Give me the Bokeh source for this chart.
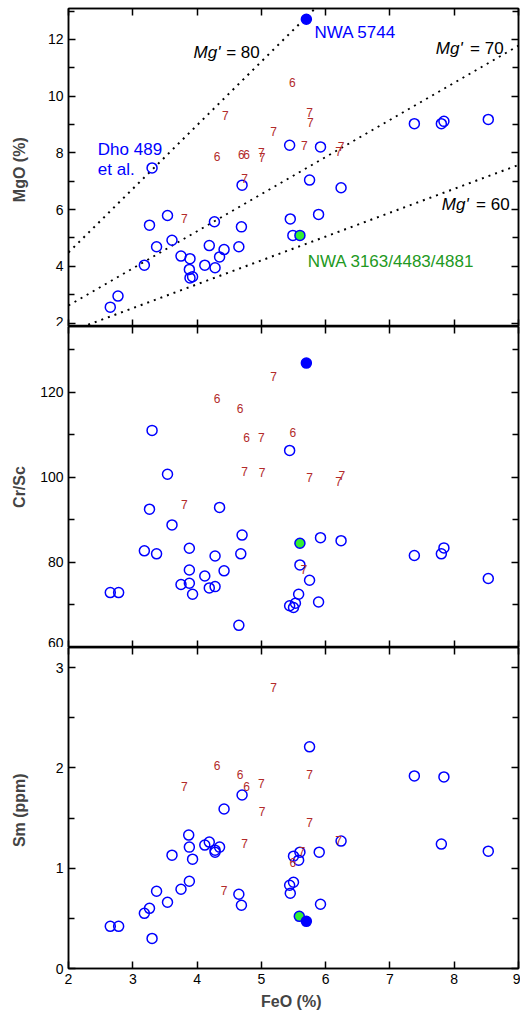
from bokeh.plotting import figure
from bokeh.layouts import column
from bokeh.models import LinearAxis, FixedTicker, Range1d, Label
from bokeh.core.properties import value
from bokeh.embed import file_html
from bokeh.resources import INLINE

FONT = "Liberation Sans"
BLUE = "#0000ff"
RED = "#b22a2a"
GREEN_FILL = "#33ee33"
GREEN_TEXT = "#229922"

# ---------------- data ----------------
x_ticks = [2, 3, 4, 5, 6, 7, 8, 9]

# Panel 1: MgO (%) vs FeO (%)
mgo_open_feo = [3.30, 7.38, 7.80, 7.84, 8.53, 5.44, 5.92, 5.75, 6.24, 5.45, 5.89, 5.49,
                3.26, 3.54, 4.27, 4.69, 3.37, 3.61, 3.18, 2.77, 2.65, 3.75, 3.89, 3.88,
                3.89, 3.93, 4.19, 4.42, 4.35, 4.12, 4.28, 4.65, 4.70]
mgo_open = [7.47, 9.03, 9.03, 9.11, 9.18, 8.27, 8.21, 7.04, 6.77, 5.67, 5.83, 5.09,
            5.45, 5.79, 5.57, 5.39, 4.69, 4.92, 4.04, 2.95, 2.56, 4.36, 4.27, 3.89,
            3.59, 3.63, 4.73, 4.59, 4.33, 4.04, 3.95, 4.69, 6.86]
mgo_nwa5744 = (5.70, 12.71)
mgo_nwa3163 = (5.60, 5.09)
mgo_six_feo = [5.48, 4.31, 4.69, 4.77]
mgo_six = [10.49, 7.88, 7.94, 7.94]
mgo_seven_feo = [4.44, 5.19, 5.00, 5.01, 4.74, 3.80, 5.75, 5.76, 5.67, 6.24, 6.20]
mgo_seven = [9.33, 8.74, 8.00, 7.83, 7.10, 5.67, 9.41, 9.06, 8.27, 8.24, 8.04]
mgo_ticks = [2, 4, 6, 8, 10, 12]
mgo_minor = [1, 3, 5, 7, 9, 11, 13]
mg_numbers = [0.80, 0.70, 0.60]          # Mg' reference lines
mg_labels = ["80", "70", "60"]

# Panel 2: Cr/Sc vs FeO (%)
crsc_open_feo = [3.30, 3.54, 5.44, 3.26, 4.35, 3.61, 4.70, 3.18, 3.37, 3.88, 4.28, 4.68,
                 3.88, 4.12, 4.42, 3.75, 3.88, 3.93, 4.19, 4.28, 2.65, 2.78, 4.65, 5.44,
                 5.92, 6.24, 7.38, 7.80, 7.84, 8.53, 5.60, 5.75, 5.58, 5.50, 5.53, 5.89]
crsc_open = [111.0, 100.7, 106.3, 92.5, 92.9, 88.8, 86.4, 82.7, 82.0, 83.3, 81.5, 82.0,
             78.2, 76.8, 78.0, 74.8, 75.1, 72.5, 74.0, 74.3, 72.9, 72.9, 65.2, 69.8,
             85.8, 85.1, 81.6, 82.0, 83.4, 76.2, 79.4, 75.8, 72.5, 69.4, 70.4, 70.7]
crsc_nwa5744 = (5.70, 126.8)
crsc_nwa3163 = (5.60, 84.5)
crsc_six_feo = [4.31, 4.67, 4.77, 5.49]
crsc_six = [118.4, 116.1, 109.3, 110.5]
crsc_seven_feo = [5.19, 5.00, 4.74, 5.01, 5.75, 6.25, 6.20, 3.80, 5.66]
crsc_seven = [123.7, 109.3, 101.3, 101.2, 100.0, 100.5, 99.0, 93.6, 78.4]
crsc_ticks = [60, 80, 100, 120]
crsc_minor = [70, 90, 110, 130]

# Panel 3: Sm (ppm) vs FeO (%)
sm_open_feo = [4.70, 4.42, 5.75, 7.38, 7.84, 6.24, 7.80, 8.53, 5.90, 5.60, 5.50, 5.58,
               5.50, 5.44, 5.45, 5.92, 3.87, 3.88, 3.93, 3.61, 4.12, 4.19, 4.28, 4.28,
               4.35, 3.88, 3.75, 3.37, 3.54, 3.26, 3.18, 2.65, 2.78, 3.30, 4.65, 4.69]
sm_open = [1.73, 1.59, 2.21, 1.92, 1.91, 1.27, 1.24, 1.17, 1.16, 1.16, 1.12, 1.08,
           0.86, 0.83, 0.75, 0.64, 1.33, 1.21, 1.09, 1.13, 1.23, 1.26, 1.18, 1.16,
           1.21, 0.87, 0.79, 0.77, 0.66, 0.60, 0.55, 0.42, 0.42, 0.30, 0.74, 0.63]
sm_nwa5744 = (5.70, 0.47)
sm_nwa3163 = (5.59, 0.52)
sm_six_feo = [4.31, 4.67, 4.77, 5.49]
sm_six = [2.02, 1.93, 1.81, 1.06]
sm_seven_feo = [5.19, 3.80, 5.00, 5.01, 5.75, 5.75, 6.20, 5.63, 4.74, 4.42]
sm_seven = [2.80, 1.81, 1.84, 1.57, 1.93, 1.46, 1.28, 1.17, 1.25, 0.78]
sm_ticks = [0, 1, 2, 3]
sm_minor = [0.5, 1.5, 2.5]

W = 520
FRAME_W = 450
BORDER_R = 2
BORDER_L = W - FRAME_W - BORDER_R
TICK_FS = "14px"


def style_axis(ax, show_labels):
    ax.axis_line_color = "black"
    ax.axis_line_width = 1.5
    ax.major_tick_in = 7
    ax.major_tick_out = 0
    ax.minor_tick_in = 6
    ax.minor_tick_out = 0
    ax.major_tick_line_color = "black"
    ax.minor_tick_line_color = "black"
    ax.major_tick_line_width = 1.5
    ax.minor_tick_line_width = 1.5
    ax.major_label_text_font = FONT
    ax.major_label_text_font_size = TICK_FS
    ax.major_label_text_color = "black"
    if not show_labels:
        ax.major_label_text_font_size = "0px"
        ax.major_label_text_color = None
        ax.major_label_standoff = 0
    else:
        ax.major_label_standoff = 5


def make_panel(height, yr, yticks, yminor, ylabel, label_standoff, border_top, border_bottom, show_x):
    p = figure(width=W, height=height, x_range=Range1d(2, 9), y_range=Range1d(*yr),
               output_backend="svg", toolbar_location=None,
               min_border_left=BORDER_L, min_border_right=BORDER_R,
               min_border_top=border_top, min_border_bottom=border_bottom)
    p.xgrid.visible = False
    p.ygrid.visible = False
    p.outline_line_color = "black"
    p.outline_line_width = 1.5
    p.background_fill_color = "white"
    p.border_fill_color = "white"
    bx = p.below[0]
    bx.ticker = FixedTicker(ticks=x_ticks, minor_ticks=[])
    style_axis(bx, show_x)
    if show_x:
        bx.axis_label = "FeO  (%)"
        bx.axis_label_text_font = FONT
        bx.axis_label_text_font_size = "16px"
        bx.axis_label_text_font_style = "bold"
        bx.axis_label_standoff = 6
    ly = p.left[0]
    ly.ticker = FixedTicker(ticks=yticks, minor_ticks=yminor)
    style_axis(ly, True)
    ly.axis_label = ylabel
    ly.axis_label_text_font = FONT
    ly.axis_label_text_font_size = "16px"
    ly.axis_label_text_font_style = "bold"
    ly.axis_label_standoff = label_standoff
    top = LinearAxis(ticker=FixedTicker(ticks=x_ticks, minor_ticks=[]))
    style_axis(top, False)
    p.add_layout(top, "above")
    ry = LinearAxis(ticker=FixedTicker(ticks=yticks, minor_ticks=yminor))
    style_axis(ry, False)
    p.add_layout(ry, "right")
    return p


def add_points(p, ofeo, oval, six_x, six_y, sev_x, sev_y, green, blue):
    p.scatter(ofeo, oval, size=10, marker="circle", fill_color=None,
              line_color=BLUE, line_width=1.5)
    p.text(six_x, six_y, text=["6"] * len(six_x), text_font=value(FONT), text_font_size="12px",
           text_color=RED, text_align="center", text_baseline="middle")
    p.text(sev_x, sev_y, text=["7"] * len(sev_x), text_font=value(FONT), text_font_size="12px",
           text_color=RED, text_align="center", text_baseline="middle")
    p.scatter([green[0]], [green[1]], size=10, marker="circle", fill_color=GREEN_FILL,
              line_color=BLUE, line_width=1.5)
    p.scatter([blue[0]], [blue[1]], size=10, marker="circle", fill_color=BLUE,
              line_color=BLUE, line_width=1.5)


def edge_label(p, text, y, y_offset):
    # completes a tick label that straddles the boundary between two panels
    p.add_layout(Label(x=2, y=y, x_offset=-5, y_offset=y_offset, text=text,
                       text_font=FONT, text_font_size=TICK_FS, text_color="black",
                       text_align="right", text_baseline="middle"))


# ---------------- panel 1 ----------------
p1 = make_panel(326, (1.877, 13.09), mgo_ticks, mgo_minor, "MgO  (%)", 17, 8, 0, False)
for m in mg_numbers:
    k = (40.3 / 71.85) * m / (1 - m)
    p1.line([2, 9], [2 * k, 9 * k], line_color="black", line_width=2, line_dash="2 5")
add_points(p1, mgo_open_feo, mgo_open, mgo_six_feo, mgo_six, mgo_seven_feo, mgo_seven,
           mgo_nwa3163, mgo_nwa5744)

lab_split_l = [4.364, 8.132, 8.225]
lab_split_r = [4.453, 8.247, 8.340]
lab_y = [11.53, 11.68, 6.18]
p1.text(lab_split_l, lab_y, text=["Mg'"] * 3, text_font=value(FONT), text_font_size="17px",
        text_font_style="italic", text_color="black", text_align="right", text_baseline="middle")
p1.text(lab_split_r, lab_y, text=["= " + s for s in mg_labels], text_font=value(FONT),
        text_font_size="17px", text_color="black", text_align="left", text_baseline="middle")
p1.text([5.826], [12.26], text=["NWA 5744"], text_font=value(FONT), text_font_size="17px",
        text_color=BLUE, text_align="left", text_baseline="middle")
p1.text([2.456, 2.456], [8.12, 7.42], text=["Dho 489", "et al."], text_font=value(FONT),
        text_font_size="17px", text_color=BLUE, text_align="left", text_baseline="middle")
p1.text([5.72], [4.18], text=["NWA 3163/4483/4881"], text_font=value(FONT), text_font_size="17px",
        text_color=GREEN_TEXT, text_align="left", text_baseline="middle")

# ---------------- panel 2 ----------------
p2 = make_panel(321, (60, 135.4), crsc_ticks, crsc_minor, "Cr/Sc", 9, 0, 0, False)
add_points(p2, crsc_open_feo, crsc_open, crsc_six_feo, crsc_six, crsc_seven_feo, crsc_seven,
           crsc_nwa3163, crsc_nwa5744)
# lower part of the "2" tick label of panel 1 (spills over the boundary)
edge_label(p2, "2", 135.4, 3.5)

# ---------------- panel 3 ----------------
p3 = make_panel(368, (0, 3.2), sm_ticks, sm_minor, "Sm  (ppm)", 25, 0, 47, True)
add_points(p3, sm_open_feo, sm_open, sm_six_feo, sm_six, sm_seven_feo, sm_seven,
           sm_nwa3163, sm_nwa5744)
# lower half of the "60" tick label of panel 2
edge_label(p3, "60", 3.2, 0)

layout = column(p1, p2, p3, spacing=0)
open("out.html", "w").write(file_html(layout, INLINE))
